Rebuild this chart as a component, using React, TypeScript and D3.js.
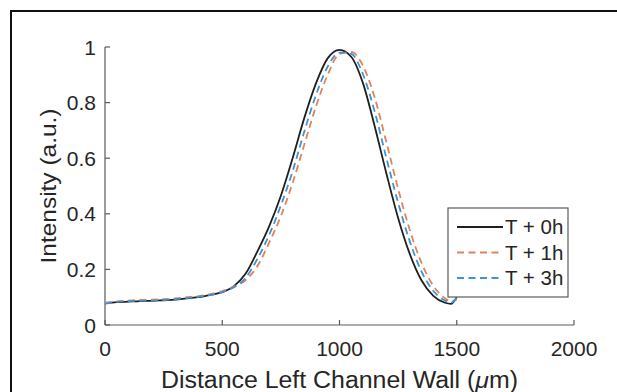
import React from "react";
import * as d3 from "d3";

const xPositions = [0, 50, 100, 150, 200, 250, 300, 350, 400, 450, 500, 550, 600, 650, 700, 750, 800, 850, 900, 950, 1000, 1050, 1100, 1150, 1200, 1250, 1300, 1350, 1400, 1450, 1475, 1500];
const seriesT0 = [0.078, 0.082, 0.084, 0.086, 0.087, 0.089, 0.091, 0.096, 0.1, 0.108, 0.118, 0.14, 0.185, 0.265, 0.355, 0.465, 0.6, 0.745, 0.87, 0.96, 0.99, 0.965, 0.87, 0.715, 0.545, 0.385, 0.255, 0.16, 0.105, 0.08, 0.076, 0.1];
const seriesT1 = [0.08, 0.085, 0.088, 0.09, 0.091, 0.093, 0.096, 0.1, 0.104, 0.111, 0.122, 0.138, 0.162, 0.212, 0.296, 0.392, 0.511, 0.649, 0.787, 0.901, 0.975, 0.982, 0.933, 0.818, 0.657, 0.49, 0.341, 0.223, 0.141, 0.096, 0.085, 0.092];
const seriesT3 = [0.077, 0.083, 0.086, 0.087, 0.088, 0.09, 0.093, 0.097, 0.101, 0.108, 0.118, 0.136, 0.17, 0.238, 0.324, 0.43, 0.553, 0.696, 0.828, 0.93, 0.98, 0.975, 0.902, 0.768, 0.6, 0.44, 0.3, 0.192, 0.123, 0.088, 0.08, 0.098];
const seriesNames = ["T + 0h", "T + 1h", "T + 3h"];
const xTicks = [0, 500, 1000, 1500, 2000];
const yTicks = [0, 0.2, 0.4, 0.6, 0.8, 1];

const colors = ["#1f1f1f", "#e0825a", "#3d93d3"];
const dashes = [null, "7,4.5", "7,4.5"];
const FONT = "'Liberation Sans', Arial, sans-serif";
const AXIS = "#5a5a5a";

export default function App() {
  const W = 617, H = 392;
  const x = d3.scaleLinear().domain([0, 2000]).range([105, 574]);
  const y = d3.scaleLinear().domain([0, 1]).range([325, 47]);
  const all = [seriesT0, seriesT1, seriesT3];
  const line = d3
    .line<number>()
    .x((_, i) => x(xPositions[i]))
    .y((d) => y(d))
    .curve(d3.curveMonotoneX);

  return (
    <svg width={W} height={H} style={{ position: "absolute", left: 0, top: 0, background: "#fff" }} fontFamily={FONT}>
      <rect x={0} y={0} width={W} height={H} fill="#fff" />
      <rect x={11} y={11} width={640} height={420} fill="none" stroke="#111" strokeWidth={2} />
      {/* axes */}
      <line x1={x(0)} x2={x(2000)} y1={y(0)} y2={y(0)} stroke={AXIS} strokeWidth={1.2} />
      <line x1={x(0)} x2={x(0)} y1={y(0)} y2={y(1)} stroke={AXIS} strokeWidth={1.2} />
      {xTicks.map((t) => (
        <g key={"x" + t}>
          <line x1={x(t)} x2={x(t)} y1={y(0)} y2={y(0) - 5} stroke={AXIS} strokeWidth={1.2} />
          <text x={x(t)} y={356} textAnchor="middle" fontSize={21} fill="#262626">
            {t}
          </text>
        </g>
      ))}
      {yTicks.map((t) => (
        <g key={"y" + t}>
          <line x1={x(0)} x2={x(0) + 5} y1={y(t)} y2={y(t)} stroke={AXIS} strokeWidth={1.2} />
          <text x={96} y={y(t) + 7.5} textAnchor="end" fontSize={21} fill="#262626">
            {String(t)}
          </text>
        </g>
      ))}
      <text x={339.5} y={388} textAnchor="middle" fontSize={23} fill="#262626" textLength={357} lengthAdjust="spacingAndGlyphs">
        Distance Left Channel Wall (<tspan fontStyle="italic">μ</tspan>m)
      </text>
      <text transform={`translate(56,186) rotate(-90)`} textAnchor="middle" fontSize={22} fill="#262626" textLength={155} lengthAdjust="spacingAndGlyphs">
        Intensity (a.u.)
      </text>
      {/* series */}
      {all.map((s, i) => (
        <path
          key={i}
          d={line(s) || ""}
          fill="none"
          stroke={colors[i]}
          strokeWidth={1.8}
          strokeDasharray={dashes[i] || undefined}
        />
      ))}
      {/* legend */}
      <rect x={448} y={208} width={120} height={89} fill="#fff" stroke={AXIS} strokeWidth={1.2} />
      {seriesNames.map((n, i) => {
        const ly = 227 + i * 25.5;
        return (
          <g key={n}>
            <line x1={457} x2={503} y1={ly} y2={ly} stroke={colors[i]} strokeWidth={1.8} strokeDasharray={dashes[i] || undefined} />
            <text x={505} y={ly + 7} fontSize={20.5} fill="#262626">
              {n}
            </text>
          </g>
        );
      })}
    </svg>
  );
}
